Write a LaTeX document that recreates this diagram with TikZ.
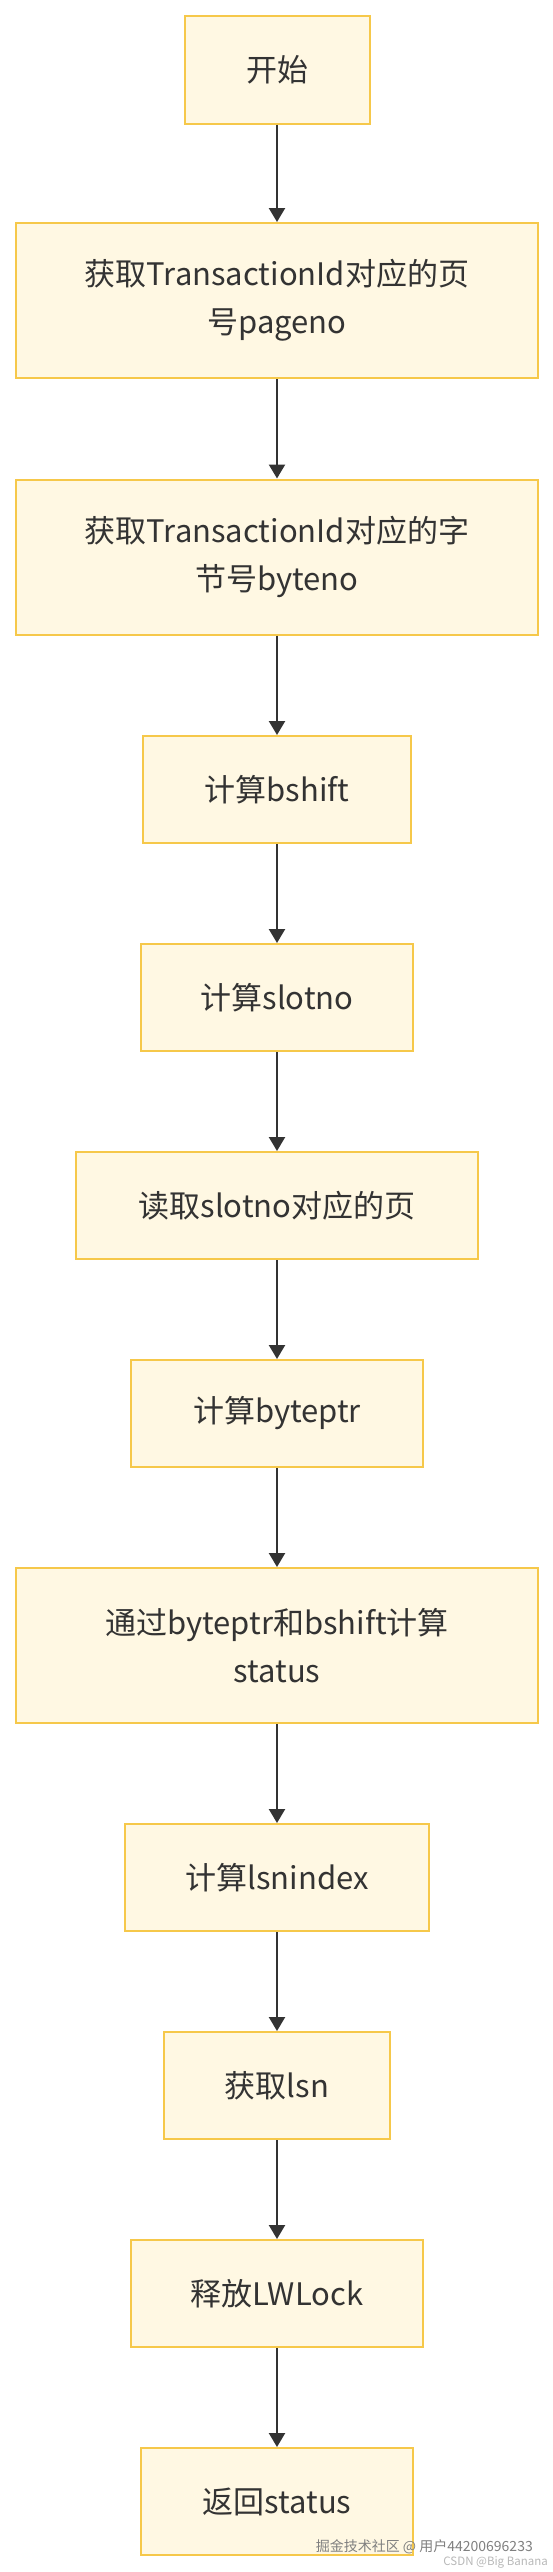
\documentclass[tikz,border=0pt]{standalone}
\usepackage{fontspec}
\setmainfont{Noto Sans CJK SC}
\usetikzlibrary{arrows.meta}
\definecolor{boxfill}{HTML}{FFF8E3}
\definecolor{boxline}{HTML}{F6C84A}
\definecolor{arrowcol}{HTML}{333333}
\definecolor{txtcol}{HTML}{333333}
\definecolor{wmone}{HTML}{808080}
\definecolor{wmtwo}{HTML}{B8B8B8}
\begin{document}
\begin{tikzpicture}[x=1pt,y=-1pt,
  flowbox/.style={draw=boxline, fill=boxfill, line width=2pt, inner sep=0pt,
    align=center, text=txtcol, font=\fontsize{31}{48}\selectfont,
    minimum height=107pt},
  twoline/.style={minimum height=155pt},
  flowarrow/.style={draw=arrowcol, line width=2.3pt,
    -{Triangle[length=14pt,width=16pt]}},
  wmark/.style={inner sep=0pt, anchor=east}
]
\useasboundingbox[fill=white] (0,0) rectangle (552,2572);

\node[flowbox, minimum width=185pt] (n1) at (277,70) {开始};
\node[flowbox, twoline, minimum width=522pt] (n2) at (277,300.5) {获取TransactionId对应的页\\号pageno};
\node[flowbox, twoline, minimum width=522pt] (n3) at (277,557) {获取TransactionId对应的字\\节号byteno};
\node[flowbox, minimum width=268pt] (n4) at (277,789.5) {计算bshift};
\node[flowbox, minimum width=272pt] (n5) at (277,997.5) {计算slotno};
\node[flowbox, minimum width=402pt] (n6) at (277,1205.5) {读取slotno对应的页};
\node[flowbox, minimum width=292pt] (n7) at (277,1413.5) {计算byteptr};
\node[flowbox, twoline, minimum width=522pt] (n8) at (277,1645.5) {通过byteptr和bshift计算\\status};
\node[flowbox, minimum width=304pt] (n9) at (277,1877.5) {计算lsnindex};
\node[flowbox, minimum width=226pt] (n10) at (277,2085.5) {获取lsn};
\node[flowbox, minimum width=292pt] (n11) at (277,2293.5) {释放LWLock};
\node[flowbox, minimum width=272pt] (n12) at (277,2501.5) {返回status};

\foreach \a/\b in {n1/n2,n2/n3,n3/n4,n4/n5,n5/n6,n6/n7,n7/n8,n8/n9,n9/n10,n10/n11,n11/n12}
  \draw[flowarrow] (\a.south) -- (\b.north);

\node[wmark, text=wmone, font=\fontsize{14}{14}\selectfont] (wm1) at (533,2547) {掘金技术社区 @ 用户44200696233};
\node[wmark, text=wmtwo, font=\fontsize{11.5}{11.5}\selectfont] (wm2) at (548,2562) {CSDN @Big Banana};
\end{tikzpicture}
\end{document}
